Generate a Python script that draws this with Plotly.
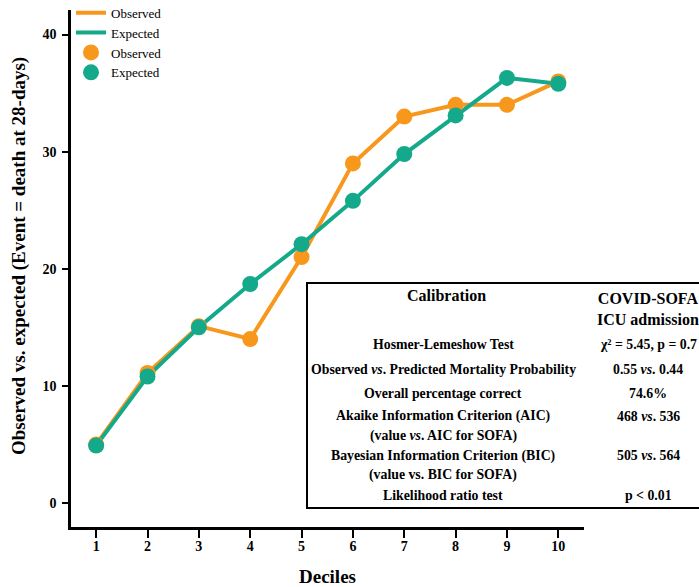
import plotly.graph_objects as go

deciles = [1, 2, 3, 4, 5, 6, 7, 8, 9, 10]
observed = [5.0, 11.1, 15.1, 14.0, 21.0, 29.0, 33.0, 34.0, 34.0, 36.0]
expected = [4.9, 10.8, 15.0, 18.7, 22.1, 25.8, 29.8, 33.1, 36.3, 35.8]
y_ticks = [0, 10, 20, 30, 40]

table_header_left = "Calibration"
table_header_right = "COVID-SOFA<br>ICU admission"
table_left = [
    "Hosmer-Lemeshow Test",
    "Observed <i>vs</i>. Predicted Mortality Probability",
    "Overall percentage correct",
    "Akaike Information Criterion (AIC)",
    "(value <i>vs</i>. AIC for SOFA)",
    "Bayesian Information Criterion (BIC)",
    "(value vs. BIC for SOFA)",
    "Likelihood ratio test",
]
table_right = [
    "χ² = 5.45, p = 0.7",
    "0.55 <i>vs</i>. 0.44",
    "74.6%",
    "468 <i>vs</i>. 536",
    "",
    "505 <i>vs</i>. 564",
    "",
    "p < 0.01",
]

ORANGE = "#F7981D"
TEAL = "#15A98B"
SERIF = "Liberation Serif"

W, H = 699, 587
# plot area in pixels
L, R, T, B = 71, 584, 10, 527

def px(x):
    return (x - L) / (R - L)

def py(y):
    return (B - y) / (B - T)

fig = go.Figure()
fig.add_trace(go.Scatter(x=deciles, y=observed, mode="lines", name="Observed",
                         line=dict(color=ORANGE, width=4)))
fig.add_trace(go.Scatter(x=deciles, y=expected, mode="lines", name="Expected",
                         line=dict(color=TEAL, width=4)))
fig.add_trace(go.Scatter(x=deciles, y=observed, mode="markers", name="Observed",
                         marker=dict(color=ORANGE, size=16)))
fig.add_trace(go.Scatter(x=deciles, y=expected, mode="markers", name="Expected",
                         marker=dict(color=TEAL, size=16)))

# table box
fig.add_shape(type="rect", xref="paper", yref="paper",
              x0=px(307), x1=px(706), y0=py(508), y1=py(283),
              line=dict(color="black", width=2), fillcolor="white", layer="above")

body_font = dict(size=13.8, family=SERIF, color="black", weight="bold")
head_font = dict(size=16, family=SERIF, color="black", weight="bold")
ann = []
ann.append(dict(text=table_header_left, x=px(446), y=py(295), font=head_font))
ann.append(dict(text=table_header_right, x=px(648), y=py(309), font=head_font))
row_y = [344, 369, 393, 416, 436, 456, 475, 495]
for txt_l, txt_r, yy in zip(table_left, table_right, row_y):
    ann.append(dict(text=txt_l, x=px(443), y=py(yy), font=body_font))
    if txt_r:
        ann.append(dict(text=txt_r, x=px(648), y=py(yy), font=body_font))
# y-axis title
ann.append(dict(text="Observed vs. expected (Event = death at 28-days)", textangle=-90,
                x=px(19), y=py(256),
                font=dict(family=SERIF, size=19, color="black", weight="bold")))
for a in ann:
    a.update(xref="paper", yref="paper", showarrow=False, xanchor="center", yanchor="middle")
fig.update_layout(annotations=ann)

fig.update_layout(
    width=W, height=H,
    margin=dict(l=L, r=W - R, t=T, b=H - B, pad=0, autoexpand=False),
    plot_bgcolor="white", paper_bgcolor="white",
    showlegend=True,
    legend=dict(x=0.0, y=1.0238, xanchor="left", yanchor="top",
                font=dict(family=SERIF, size=13, color="black"),
                bgcolor="rgba(0,0,0,0)", tracegroupgap=0),
    xaxis=dict(range=[0.51, 10.5], tickvals=deciles, showgrid=False, zeroline=False,
               automargin=False,
               showline=True, linecolor="black", linewidth=3,
               ticks="outside", ticklen=8, tickwidth=2, tickcolor="black",
               ticklabelstandoff=-4,
               tickfont=dict(family=SERIF, size=14, color="black", weight="bold"),
               title=dict(text="Deciles", standoff=18,
                          font=dict(family=SERIF, size=19, color="black", weight="bold"))),
    yaxis=dict(range=[-2.05, 42.1], tickvals=y_ticks, showgrid=False, zeroline=False,
               automargin=False,
               showline=True, linecolor="black", linewidth=2.5,
               ticks="outside", ticklen=6, tickwidth=2, tickcolor="black",
               ticklabelstandoff=3,
               tickfont=dict(family=SERIF, size=14, color="black", weight="bold")),
)

fig.write_html("out.html", config={"displayModeBar": False},
               post_script="document.body.style.margin='0';document.body.style.overflow='hidden';")
